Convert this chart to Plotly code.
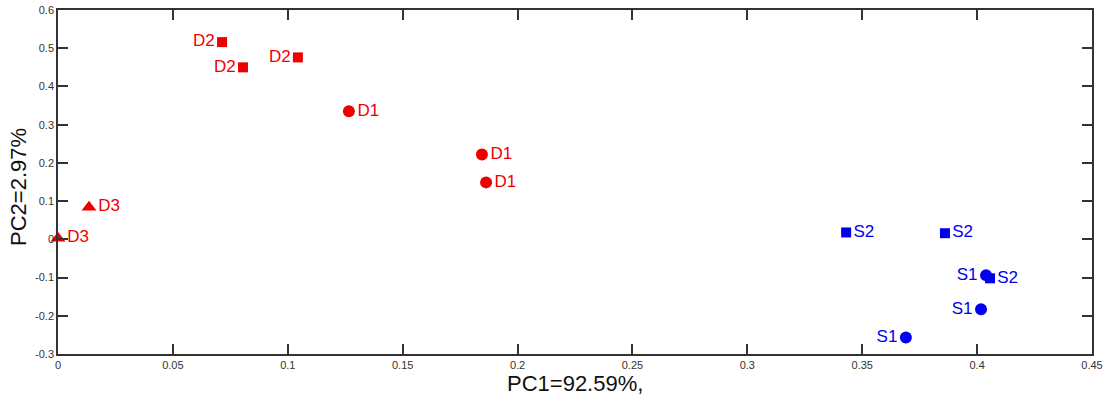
import plotly.graph_objects as go

# PCA scores
d1_x = [0.1266, 0.1845, 0.1863]
d1_y = [0.335, 0.222, 0.149]
d2_x = [0.0714, 0.0805, 0.1044]
d2_y = [0.516, 0.450, 0.476]
d3_x = [0.0135, 0.0]
d3_y = [0.084, 0.003]
s1_x = [0.4039, 0.4017, 0.369]
s1_y = [-0.094, -0.183, -0.257]
s2_x = [0.343, 0.386, 0.4056]
s2_y = [0.018, 0.016, -0.102]

x_ticks = [0, 0.05, 0.1, 0.15, 0.2, 0.25, 0.3, 0.35, 0.4, 0.45]
x_tick_text = ["0", "0.05", "0.1", "0.15", "0.2", "0.25", "0.3", "0.35", "0.4", "0.45"]
y_ticks = [-0.3, -0.2, -0.1, 0, 0.1, 0.2, 0.3, 0.4, 0.5, 0.6]
y_tick_text = ["-0.3", "-0.2", "-0.1", "0", "0.1", "0.2", "0.3", "0.4", "0.5", "0.6"]

RED = "#ee0000"
BLUE = "#0000ee"
FONT = "Liberation Sans, Arial, sans-serif"

fig = go.Figure()

def add(xs, ys, label, symbol, size, color, pos):
    fig.add_trace(go.Scatter(
        x=xs, y=ys, mode="markers+text",
        text=[label] * len(xs), textposition=pos,
        textfont=dict(family=FONT, size=17, color=color),
        marker=dict(symbol=symbol, size=size, color=color),
        cliponaxis=False, showlegend=False,
    ))

add(d2_x, d2_y, "D2", "square", 10, RED, "middle left")
add(d1_x, d1_y, "D1", "circle", 12, RED, "middle right")
add(d3_x, d3_y, "D3", "triangle-up", 13, RED, "middle right")
add(s2_x, s2_y, "S2", "square", 10, BLUE, "middle right")
add(s1_x, s1_y, "S1", "circle", 12, BLUE, "middle left")

axis_common = dict(
    showline=True, linecolor="#333333", linewidth=1.5, mirror="ticks",
    ticks="inside", ticklen=10, tickcolor="#333333", tickwidth=1.5,
    showgrid=False, zeroline=False, automargin=False,
    ticklabeloverflow="allow",
    tickfont=dict(family=FONT, size=11, color="#333333"),
)

fig.update_xaxes(range=[0, 0.45], tickvals=x_ticks, ticktext=x_tick_text, **axis_common)
fig.update_yaxes(range=[-0.3, 0.6], tickvals=y_ticks, ticktext=y_tick_text, **axis_common)

fig.update_layout(
    width=1106, height=401,
    margin=dict(l=58, r=14, t=10, b=47),
    plot_bgcolor="white", paper_bgcolor="white",
    annotations=[
        dict(text="PC1=92.59%,", x=0.5, y=0, xref="paper", yref="paper",
             xanchor="center", yanchor="middle", yshift=-29, showarrow=False,
             font=dict(family=FONT, size=22, color="#111111")),
        dict(text="PC2=2.97%", x=0, y=0.5, xref="paper", yref="paper",
             xanchor="center", yanchor="middle", xshift=-40, yshift=-5, textangle=-90,
             showarrow=False, font=dict(family=FONT, size=22, color="#111111")),
    ],
)

# remove the default page margin so the figure sits at the window's corner
fig.write_html(
    "out.html",
    config={"displayModeBar": False},
    post_script="document.body.style.margin='0';document.body.style.overflow='hidden';",
)
